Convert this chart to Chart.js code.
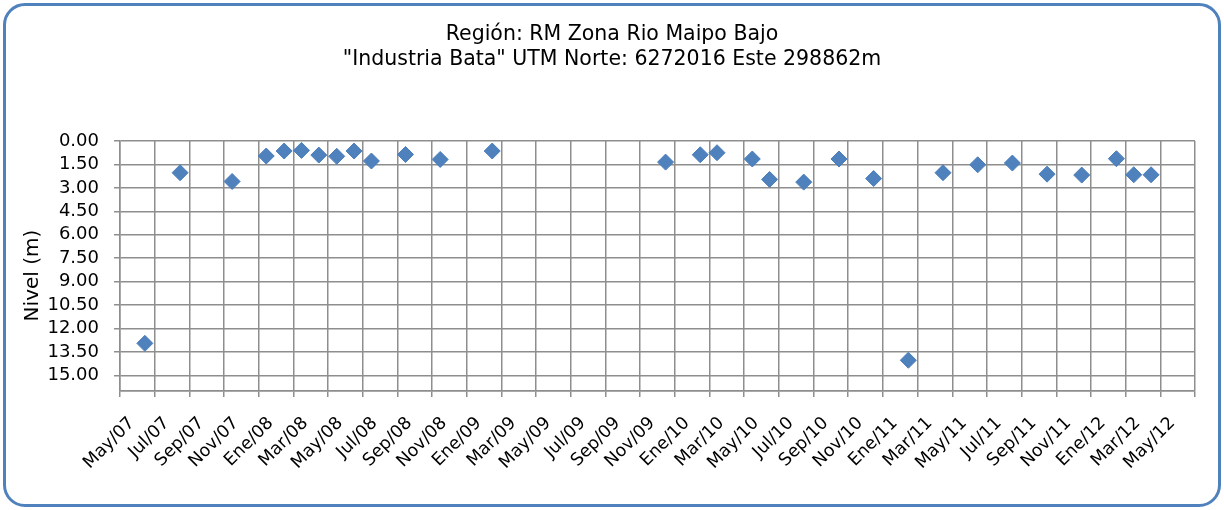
<!DOCTYPE html>
<html>
<head>
<meta charset="utf-8">
<title>Nivel Industria Bata</title>
<script src="https://cdn.jsdelivr.net/npm/chart.js@4"></script>
<style>
  html, body { margin: 0; padding: 0; background: #fff; }
  #marco {
    position: relative;
    width: 1224px;
    height: 510px;
  }
  #borde {
    position: absolute;
    left: 3px; top: 3px;
    width: 1212px; height: 498px;
    border: 3px solid #4f81bd;
    border-radius: 22px;
    pointer-events: none;
  }
  canvas { position: absolute; left: 0; top: 0; }
</style>
</head>
<body>
<div id="marco">
  <canvas id="grafico" width="1224" height="510"></canvas>
  <div id="borde"></div>
</div>
<script>
// fechas de medición y nivel del pozo (m bajo superficie)
let fechas = [
  '2007-06-14', '2007-08-15', '2007-11-15', '2008-01-14', '2008-02-15',
  '2008-03-15', '2008-04-15', '2008-05-16', '2008-06-16', '2008-07-16',
  '2008-09-15', '2008-11-15', '2009-02-15', '2009-12-15', '2010-02-15',
  '2010-03-14', '2010-05-15', '2010-06-15', '2010-08-14', '2010-10-15',
  '2010-12-15', '2011-02-15', '2011-04-15', '2011-06-15', '2011-08-15',
  '2011-10-15', '2011-12-15', '2012-02-15', '2012-03-15', '2012-04-15'
];
let niveles = [
  12.95, 2.03, 2.59, 0.96, 0.64,
  0.60, 0.90, 0.98, 0.64, 1.28,
  0.86, 1.18, 0.64, 1.35, 0.88,
  0.75, 1.15, 2.46, 2.63, 1.15,
  2.40, 14.03, 2.03, 1.52, 1.41,
  2.12, 2.18, 1.13, 2.16, 2.16
];

// eje Y: marcas cada 1.5 m, el fondo del gráfico en 16 m
let marcasNivel = [0, 1.5, 3, 4.5, 6, 7.5, 9, 10.5, 12, 13.5, 15, 16];
let meses = ['Ene', 'Feb', 'Mar', 'Abr', 'May', 'Jun', 'Jul', 'Ago', 'Sep', 'Oct', 'Nov', 'Dic'];

// el eje X cuenta meses desde May/07
function mesesDesdeInicio(fecha) {
  let [a, m, d] = fecha.split('-').map(Number);
  return (a - 2007) * 12 + (m - 5) + (d - 1) / 30;
}

function etiquetaMes(valor) {
  if (valor >= 62) return '';
  let total = 4 + valor;
  let anio = 2007 + Math.floor(total / 12);
  return meses[total % 12] + '/' + String(anio % 100).padStart(2, '0');
}

let puntos = fechas.map((f, i) => ({ x: mesesDesdeInicio(f), y: niveles[i] }));

let colorGrilla = '#8e8e8e';
let fuente = 'DejaVu Sans';

new Chart(document.getElementById('grafico'), {
  type: 'scatter',
  data: {
    datasets: [{
      label: 'Nivel',
      data: puntos,
      pointStyle: 'rectRot',
      pointRadius: 8,
      pointHoverRadius: 8,
      backgroundColor: '#4f81bd',
      borderColor: '#4a7ebb',
      borderWidth: 1
    }]
  },
  options: {
    responsive: false,
    animation: false,
    layout: {
      padding: 0
    },
    plugins: {
      legend: { display: false },
      tooltip: { enabled: false },
      title: {
        display: true,
        text: ['Región: RM Zona Rio Maipo Bajo', '"Industria Bata" UTM Norte: 6272016 Este 298862m'],
        color: '#000',
        font: { family: fuente, size: 20.5, weight: 'normal', lineHeight: 1.22 },
        padding: { top: 22, bottom: 69 }
      }
    },
    scales: {
      x: {
        type: 'linear',
        min: 0,
        max: 62,
        afterBuildTicks: (scale) => {
          let t = [];
          for (let v = 0; v <= 62; v += 2) t.push({ value: v });
          scale.ticks = t;
        },
        afterFit: (scale) => {
          scale.height = 119;
          scale.paddingLeft = 0;
          scale.paddingRight = 0;
        },
        grid: { color: colorGrilla, lineWidth: 1.5, tickLength: 6, tickColor: colorGrilla },
        border: { color: colorGrilla, width: 1.5 },
        ticks: {
          autoSkip: false,
          maxRotation: 45,
          minRotation: 45,
          labelOffset: 12,
          padding: 16,
          color: '#000',
          font: { family: fuente, size: 17.5 },
          callback: (v) => etiquetaMes(v)
        }
      },
      y: {
        reverse: true,
        min: 0,
        max: 16,
        afterBuildTicks: (scale) => {
          scale.ticks = marcasNivel.map(v => ({ value: v }));
        },
        afterFit: (scale) => { scale.width = 120; },
        grid: {
          color: colorGrilla,
          lineWidth: 1.5,
          tickLength: 6,
          tickColor: (ctx) => ctx.tick && ctx.tick.value === 16 ? 'rgba(0,0,0,0)' : colorGrilla
        },
        border: { color: colorGrilla, width: 1.5 },
        title: {
          display: true,
          text: 'Nivel (m)\u00a0\u00a0\u00a0',
          color: '#000',
          font: { family: fuente, size: 20 },
          padding: { top: 21, bottom: 0 }
        },
        ticks: {
          autoSkip: false,
          padding: 15,
          color: '#000',
          font: { family: fuente, size: 18 },
          callback: (v) => v === 16 ? '' : v.toFixed(2)
        }
      },
      // margen derecho vacío del área de trazado
      margen: {
        type: 'linear',
        position: 'right',
        grid: { display: false },
        border: { display: false },
        ticks: { display: false },
        afterFit: (scale) => { scale.width = 29; }
      }
    }
  }
});
</script>
</body>
</html>
